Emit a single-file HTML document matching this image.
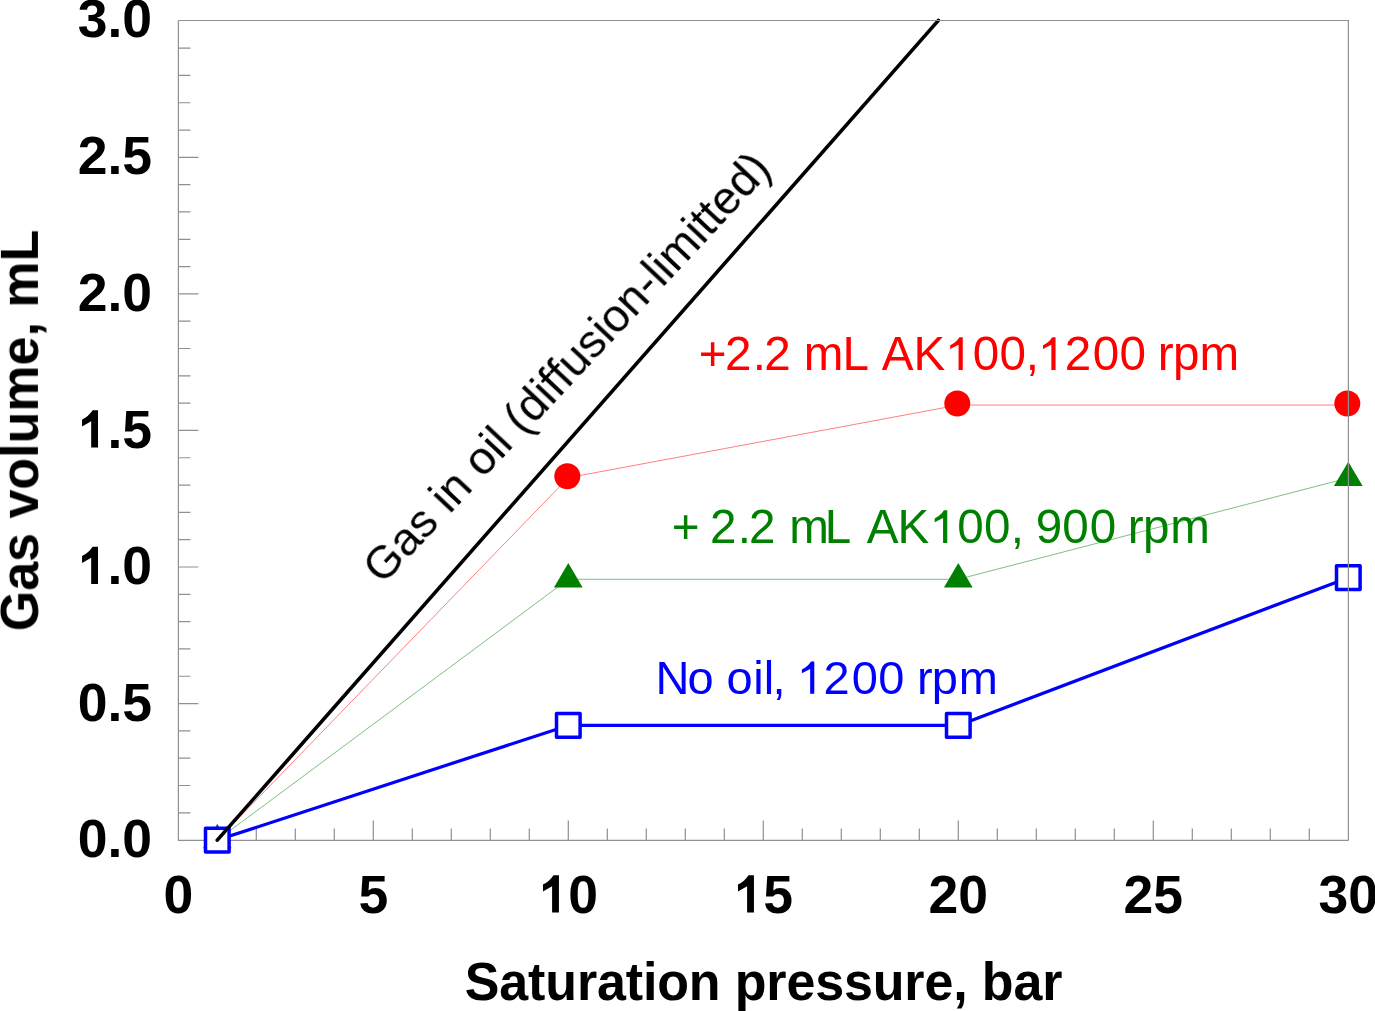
<!DOCTYPE html>
<html><head><meta charset="utf-8"><style>
html,body{margin:0;padding:0;background:#fff;}
body{width:1375px;height:1011px;overflow:hidden;}
svg{display:block;}
text{font-family:"Liberation Sans", sans-serif;font-variant-ligatures:none;font-kerning:none;}
</style></head><body>
<svg width="1375" height="1011" viewBox="0 0 1375 1011">
<defs><filter id="nf" x="-2%" y="-10%" width="104%" height="120%"><feOffset dx="0" dy="0"/></filter></defs>
<rect width="1375" height="1011" fill="#fff"/>
<text id="yt0" transform="translate(152.00,857.20)" x="0" y="0" font-size="53.5" fill="#000" font-weight="bold" text-anchor="end" filter="url(#nf)">0.0</text>
<text id="yt1" transform="translate(152.00,720.65)" x="0" y="0" font-size="53.5" fill="#000" font-weight="bold" text-anchor="end" filter="url(#nf)">0.5</text>
<text id="yt2" transform="translate(152.00,584.10)" x="0" y="0" font-size="53.5" fill="#000" font-weight="bold" text-anchor="end" filter="url(#nf)"> .0</text>
<g transform="translate(152.00,584.10)" fill="#000"><path transform="translate(-74.38,0.00) scale(0.02612,-0.02612)" d="M519,0 L519,1010 L170,810 L170,1075 Q420,1195 573,1432 L781,1432 L781,0 Z"/></g>
<text id="yt3" transform="translate(152.00,447.55)" x="0" y="0" font-size="53.5" fill="#000" font-weight="bold" text-anchor="end" filter="url(#nf)"> .5</text>
<g transform="translate(152.00,447.55)" fill="#000"><path transform="translate(-74.38,0.00) scale(0.02612,-0.02612)" d="M519,0 L519,1010 L170,810 L170,1075 Q420,1195 573,1432 L781,1432 L781,0 Z"/></g>
<text id="yt4" transform="translate(152.00,311.00)" x="0" y="0" font-size="53.5" fill="#000" font-weight="bold" text-anchor="end" filter="url(#nf)">2.0</text>
<text id="yt5" transform="translate(152.00,174.45)" x="0" y="0" font-size="53.5" fill="#000" font-weight="bold" text-anchor="end" filter="url(#nf)">2.5</text>
<text id="yt6" transform="translate(152.00,36.80)" x="0" y="0" font-size="53.5" fill="#000" font-weight="bold" text-anchor="end" filter="url(#nf)">3.0</text>
<text id="xt0" transform="translate(178.30,912.60)" x="0" y="0" font-size="53.5" fill="#000" font-weight="bold" text-anchor="middle" filter="url(#nf)">0</text>
<text id="xt5" transform="translate(373.30,912.60)" x="0" y="0" font-size="53.5" fill="#000" font-weight="bold" text-anchor="middle" filter="url(#nf)">5</text>
<text id="xt10" transform="translate(568.30,912.60)" x="0" y="0" font-size="53.5" fill="#000" font-weight="bold" text-anchor="middle" filter="url(#nf)"> 0</text>
<g transform="translate(568.30,912.60)" fill="#000"><path transform="translate(-29.76,0.00) scale(0.02612,-0.02612)" d="M519,0 L519,1010 L170,810 L170,1075 Q420,1195 573,1432 L781,1432 L781,0 Z"/></g>
<text id="xt15" transform="translate(763.30,912.60)" x="0" y="0" font-size="53.5" fill="#000" font-weight="bold" text-anchor="middle" filter="url(#nf)"> 5</text>
<g transform="translate(763.30,912.60)" fill="#000"><path transform="translate(-29.76,0.00) scale(0.02612,-0.02612)" d="M519,0 L519,1010 L170,810 L170,1075 Q420,1195 573,1432 L781,1432 L781,0 Z"/></g>
<text id="xt20" transform="translate(958.30,912.60)" x="0" y="0" font-size="53.5" fill="#000" font-weight="bold" text-anchor="middle" filter="url(#nf)">20</text>
<text id="xt25" transform="translate(1153.30,912.60)" x="0" y="0" font-size="53.5" fill="#000" font-weight="bold" text-anchor="middle" filter="url(#nf)">25</text>
<text id="xt30" transform="translate(1348.30,912.60)" x="0" y="0" font-size="53.5" fill="#000" font-weight="bold" text-anchor="middle" filter="url(#nf)">30</text>
<text id="xtitle" transform="translate(763.60,999.90) scale(1.0,1.015)" x="0" y="0" font-size="52" fill="#000" font-weight="bold" text-anchor="middle" textLength="597.60" lengthAdjust="spacing" filter="url(#nf)">Saturation pressure, bar</text>
<text id="ytitle" transform="translate(37.90,430.45) rotate(-90) scale(1.0,1.015)" x="0" y="0" font-size="52" fill="#000" font-weight="bold" text-anchor="middle" filter="url(#nf)">Gas volume, mL</text>
<text id="red" transform="translate(698.70,369.90)" x="0.08 26.21 53.95 65.51 91.98 105.14 143.90 170.37 183.11 214.70 246.32 274.04 300.74 327.02 339.12 366.01 393.94 420.84 447.31 459.04 474.43 500.84" y="0" font-size="47.6" fill="#ff0000" filter="url(#nf)">+2.2 mL AK 00, 200 rpm</text>
<g transform="translate(698.70,369.90)" fill="#ff0000"><path transform="translate(246.32,0.00) scale(0.02324,-0.02324)" d="M583,0 L583,1080 L223,897 L223,1063 Q470,1170 620,1409 L763,1409 L763,0 Z"/><path transform="translate(339.12,0.00) scale(0.02324,-0.02324)" d="M583,0 L583,1080 L223,897 L223,1063 Q470,1170 620,1409 L763,1409 L763,0 Z"/></g>
<text id="grn" transform="translate(671.90,543.10)" x="-0.22 27.57 38.01 65.85 77.21 103.68 117.24 152.80 179.27 194.91 225.50 257.62 285.24 312.14 338.82 352.05 363.77 390.44 417.74 444.21 455.84 471.23 498.44" y="0" font-size="47.6" fill="#008000" filter="url(#nf)">+ 2.2 mL AK 00, 900 rpm</text>
<g transform="translate(671.90,543.10)" fill="#008000"><path transform="translate(257.62,0.00) scale(0.02324,-0.02324)" d="M583,0 L583,1080 L223,897 L223,1063 Q470,1170 620,1409 L763,1409 L763,0 Z"/></g>
<text id="blu" transform="translate(655.40,693.80)" x="0.04 32.03 58.17 71.23 97.86 108.33 117.18 130.24 141.38 168.14 196.26 222.76 248.90 261.58 276.47 303.48" y="0" font-size="47.0" fill="#0000ff" filter="url(#nf)">No oil,  200 rpm</text>
<g transform="translate(655.40,693.80)" fill="#0000ff"><path transform="translate(141.38,0.00) scale(0.02295,-0.02295)" d="M583,0 L583,1080 L223,897 L223,1063 Q470,1170 620,1409 L763,1409 L763,0 Z"/></g>
<text id="rot" transform="translate(382.80,585.80) rotate(-46.8)" x="0" y="0" font-size="46.2" fill="#000" filter="url(#nf)">Gas in oil (diffusion-limitted)</text>
<path d="M217.30 840.4V828.40M256.30 840.4V828.40M295.30 840.4V828.40M334.30 840.4V828.40M373.30 840.4V820.40M412.30 840.4V828.40M451.30 840.4V828.40M490.30 840.4V828.40M529.30 840.4V828.40M568.30 840.4V820.40M607.30 840.4V828.40M646.30 840.4V828.40M685.30 840.4V828.40M724.30 840.4V828.40M763.30 840.4V820.40M802.30 840.4V828.40M841.30 840.4V828.40M880.30 840.4V828.40M919.30 840.4V828.40M958.30 840.4V820.40M997.30 840.4V828.40M1036.30 840.4V828.40M1075.30 840.4V828.40M1114.30 840.4V828.40M1153.30 840.4V820.40M1192.30 840.4V828.40M1231.30 840.4V828.40M1270.30 840.4V828.40M1309.30 840.4V828.40M178.4 812.79H190.40M178.4 785.48H190.40M178.4 758.17H190.40M178.4 730.86H190.40M178.4 703.55H198.40M178.4 676.24H190.40M178.4 648.93H190.40M178.4 621.62H190.40M178.4 594.31H190.40M178.4 567.00H198.40M178.4 539.69H190.40M178.4 512.38H190.40M178.4 485.07H190.40M178.4 457.76H190.40M178.4 430.45H198.40M178.4 403.14H190.40M178.4 375.83H190.40M178.4 348.52H190.40M178.4 321.21H190.40M178.4 293.90H198.40M178.4 266.59H190.40M178.4 239.28H190.40M178.4 211.97H190.40M178.4 184.66H190.40M178.4 157.35H198.40M178.4 130.04H190.40M178.4 102.73H190.40M178.4 75.42H190.40M178.4 48.11H190.40M178.4 20.5V840.4H1348.4" stroke="#909090" stroke-width="1.2" fill="none"/>
<polyline points="217.30,840.10 568.30,477.69 958.30,405.05 1348.30,405.05" fill="none" stroke="#ff0000" stroke-width="1.0" stroke-opacity="0.5"/>
<polyline points="217.30,840.10 568.30,579.29 958.30,579.29 1348.30,477.97" fill="none" stroke="#008000" stroke-width="1.0" stroke-opacity="0.5"/>
<polyline points="217.30,840.10 568.30,725.40 958.30,725.40 1348.30,577.65" fill="none" stroke="#0000ff" stroke-width="3.2" stroke-linejoin="round"/>
<circle cx="567.30" cy="476.19" r="13.0" fill="#ff0000"/>
<circle cx="957.30" cy="403.55" r="13.0" fill="#ff0000"/>
<circle cx="1347.30" cy="403.55" r="13.0" fill="#ff0000"/>
<path d="M217.30 823.83L231.65 848.23L202.95 848.23Z" fill="#008000"/>
<path d="M568.30 563.02L582.65 587.42L553.95 587.42Z" fill="#008000"/>
<path d="M958.30 563.02L972.65 587.42L943.95 587.42Z" fill="#008000"/>
<path d="M1348.30 461.70L1362.65 486.10L1333.95 486.10Z" fill="#008000"/>
<rect x="205.50" y="828.30" width="23.6" height="23.6" fill="#fff" stroke="#0000ff" stroke-width="3.5" stroke-linejoin="round"/>
<rect x="556.50" y="713.60" width="23.6" height="23.6" fill="#fff" stroke="#0000ff" stroke-width="3.5" stroke-linejoin="round"/>
<rect x="946.50" y="713.60" width="23.6" height="23.6" fill="#fff" stroke="#0000ff" stroke-width="3.5" stroke-linejoin="round"/>
<rect x="1336.50" y="565.85" width="23.6" height="23.6" fill="#fff" stroke="#0000ff" stroke-width="3.5" stroke-linejoin="round"/>
<path d="M217.30 840.10L938.4 20.4" stroke="#000" stroke-width="3.6" stroke-linecap="round" fill="none"/>
<path d="M178.4 20.5H1348.4V840.4" stroke="#909090" stroke-width="1.2" fill="none"/>
</svg></body></html>
